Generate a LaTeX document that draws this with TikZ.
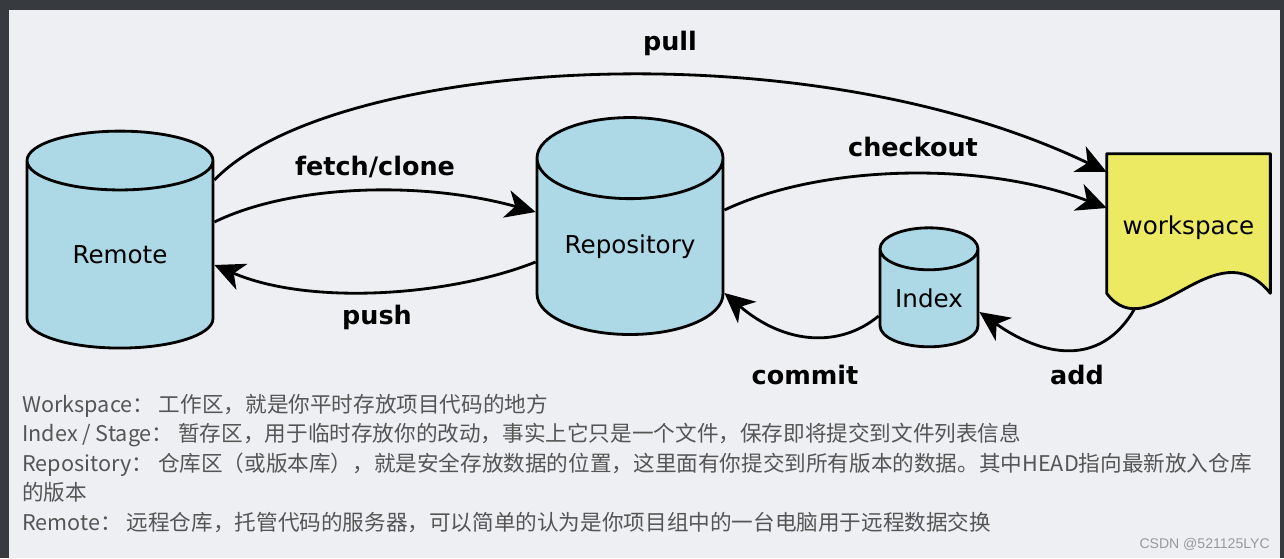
\documentclass[tikz,border=0pt]{standalone}
\usepackage{fontspec}
\usetikzlibrary{positioning,shapes.geometric,arrows.meta,backgrounds}
\newfontfamily\dejavu{DejaVu Sans}
\newfontfamily\cjk{Noto Sans CJK SC}
\newfontfamily\wmark{Liberation Sans}
\definecolor{frame}{HTML}{373B40}
\definecolor{paper}{HTML}{EEEFF3}
\definecolor{dbblue}{HTML}{ADD8E6}
\definecolor{wsyellow}{HTML}{ECEA62}
\definecolor{note}{HTML}{555555}

\begin{document}
\begin{tikzpicture}[x=0.02cm, y=-0.02cm,
  db/.style={cylinder, shape border rotate=90, draw, line width=1.6pt, inner sep=0pt, aspect=0.62,
    cylinder uses custom fill, cylinder body fill=dbblue, cylinder end fill=dbblue,
    font=\dejavu\fontsize{14}{16}\selectfont},
  lbl/.style={font=\dejavu\bfseries\fontsize{14.5}{17}\selectfont},
  notes/.style={anchor=base west, inner sep=0pt, text=note, font=\cjk\fontsize{12.3}{14}\selectfont},
  link/.style={line width=1.6pt, -{Stealth[length=17pt,width=16pt,inset=5pt]}}]
  \useasboundingbox (0,0) rectangle (1284,558);

  % stores
  \node[db, minimum width=3.72cm, minimum height=4.34cm] (remote) at (120,255) {Remote};
  \node[db, minimum width=3.72cm, minimum height=4.34cm] (repo) at (630,247) {Repository};
  \node[db, minimum width=1.96cm, minimum height=2.38cm] (index) at (929,298.5) {Index};
  \node[minimum width=3.26cm, minimum height=2.78cm, text height=16pt, text depth=3.6pt,
    font=\dejavu\fontsize{14}{16}\selectfont] (ws) at (1188.5,223.5) {workspace};
  \coordinate (wsfoot) at (1135,308);

  \begin{scope}[on background layer]
    \fill[frame] (0,0) rectangle (1284,558);
    \fill[paper] (9,10) rectangle (1280,558);
    \draw[fill=wsyellow, line width=1.6pt, line join=round] (ws.south west) -- (ws.north west) -- (ws.north east) -- (ws.south east)
      .. controls +(-55,-68) and +(43,57) .. (ws.south west) -- cycle;
  \end{scope}

  % connectors
  \draw[link] ([shift={(0,-75)}]remote.east) .. controls (330,60) and (800,25) .. ([shift={(0,-51.5)}]ws.west);
  \draw[link] ([shift={(0,-33)}]remote.east) .. controls (290,185) and (420,180) .. ([shift={(0,-35)}]repo.west);
  \draw[link] ([shift={(0,15)}]repo.west) .. controls (450,296) and (310,306) .. ([shift={(0,10)}]remote.east);
  \draw[link] ([shift={(0,-37)}]repo.east) .. controls (820,165) and (980,160) .. ([shift={(0,-15.5)}]ws.west);
  \draw[link] ([shift={(0,17.5)}]index.west) .. controls (840,348) and (785,345) .. ([shift={(0,46)}]repo.east);
  \draw[link] (wsfoot) .. controls (1100,370) and (1040,355) .. ([shift={(0,13.5)}]index.east);

  % labels
  \node[lbl] (pull) at (670,43) {pull};
  \node[lbl] (fetch) at (375,167) {fetch/clone};
  \node[lbl] (push) at (377,317) {push};
  \node[lbl] (checkout) at (913,147) {checkout};
  \node[lbl] (commit) at (805,375) {commit};
  \node[lbl] (add) at (1077,375) {add};

  % legend
  \node[notes] (note1) at (22,412) {Workspace：\ 工作区，就是你平时存放项目代码的地方};
  \node[notes] (note2) at (22,441.5) {Index / Stage：\ 暂存区，用于临时存放你的改动，事实上它只是一个文件，保存即将提交到文件列表信息};
  \node[notes] (note3) at (22,471) {Repository：\ 仓库区（或版本库），就是安全存放数据的位置，这里面有你提交到所有版本的数据。其中HEAD指向最新放入仓库};
  \node[notes] (note4) at (22,500.5) {的版本};
  \node[notes] (note5) at (22,530) {Remote：\ 远程仓库，托管代码的服务器，可以简单的认为是你项目组中的一台电脑用于远程数据交换};
  \node[anchor=base east, inner sep=0pt, text=black!40, font=\wmark\fontsize{8}{9}\selectfont] (mark) at (1270,548) {CSDN @521125LYC};
\end{tikzpicture}
\end{document}
